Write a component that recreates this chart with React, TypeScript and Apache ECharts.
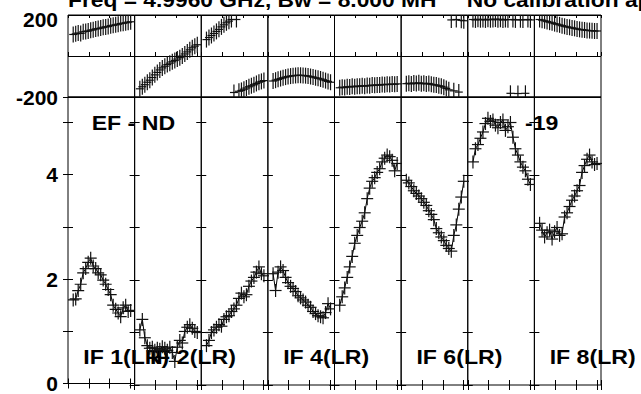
import { useEffect, useRef } from 'react';
import * as echarts from 'echarts';

const FONT = '"Liberation Sans", Arial, Helvetica, sans-serif';

// ---- texts ----
const titleLeft = 'Freq = 4.9960 GHz, Bw = 8.000 MH';
const titleRight = 'No calibration applied';
const baselineLabel = 'EF - ND';
const dateLabel = '-19';
const ifLabels = ['IF 1(LR)', 'IF 2(LR)', 'IF 4(LR)', 'IF 6(LR)', 'IF 8(LR)'];
const ifLabelPanels = [0, 1, 3, 5, 7];

// ---- axes ----
const channelMin = 0;
const channelMax = 32;
const channelTickStep = 10;
const phaseMin = -200;
const phaseMax = 200;
const ampMin = 0;
const ampMax = 5.486;
const ampTickStep = 1;

// channel positions of the plotted points in each IF panel
const channels = [2.5, 3.7, 4.9, 6.1, 7.3, 8.5, 9.7, 10.9, 12.1, 13.3, 14.5, 15.7, 16.9, 18.1, 19.3, 20.5, 21.7, 22.9, 24.1, 25.3, 26.5, 27.7, 28.9, 30.1];

// ---- amplitude per IF ----
const ampIF1 = [1.60, 1.62, 1.78, 1.90, 2.12, 2.20, 2.32, 2.40, 2.25, 2.20, 2.12, 2.08, 1.98, 1.90, 1.80, 1.70, 1.50, 1.42, 1.35, 1.28, 1.45, 1.50, 1.38, 1.40];
const ampIF2 = [1.05, 1.25, 0.90, 0.75, 0.70, 0.72, 0.66, 0.70, 0.68, 0.73, 0.70, 0.66, 0.72, 0.62, 0.45, 0.72, 0.85, 0.80, 1.02, 1.10, 1.15, 1.08, 1.02, 1.00];
const ampIF3 = [0.75, 0.85, 1.00, 1.05, 1.10, 1.15, 1.12, 1.25, 1.30, 1.32, 1.40, 1.45, 1.52, 1.65, 1.75, 1.68, 1.72, 1.88, 1.98, 2.05, 2.15, 2.25, 2.12, 2.08];
const ampIF4 = [2.12, 1.80, 2.15, 2.25, 2.18, 2.05, 1.95, 1.88, 1.84, 1.78, 1.70, 1.66, 1.62, 1.58, 1.52, 1.48, 1.40, 1.36, 1.32, 1.30, 1.28, 1.38, 1.55, 1.45];
const ampIF5 = [1.52, 1.68, 1.85, 2.05, 2.25, 2.45, 2.70, 2.85, 3.00, 3.12, 3.28, 3.55, 3.75, 3.88, 3.95, 4.05, 4.12, 4.25, 4.32, 4.38, 4.35, 4.28, 4.08, 4.22];
const ampIF6 = [3.90, 3.85, 3.78, 3.70, 3.65, 3.60, 3.55, 3.48, 3.42, 3.32, 3.25, 3.15, 2.98, 2.90, 2.82, 2.75, 2.66, 2.60, 2.55, 2.85, 3.05, 3.35, 3.58, 3.88];
const ampIF7 = [4.25, 4.50, 4.58, 4.70, 4.82, 4.98, 5.08, 5.02, 5.05, 4.95, 4.90, 5.00, 5.05, 4.85, 4.92, 5.00, 4.72, 4.50, 4.38, 4.25, 4.15, 4.08, 3.92, 3.82];
const ampIF8 = [3.08, 2.95, 2.82, 2.90, 2.95, 2.78, 2.92, 3.00, 2.85, 2.88, 3.20, 3.28, 3.40, 3.52, 3.60, 3.70, 3.80, 4.05, 4.18, 4.30, 4.38, 4.25, 4.20, 4.22];

// ---- phase (degrees) per IF ----
const phaseIF1 = [105, 108, 112, 110, 118, 120, 122, 126, 128, 132, 134, 136, 140, 142, 144, 148, 150, 152, 155, 158, 160, 162, 165, 167];
const phaseIF2 = [-160, -150, -140, -128, -118, -105, -92, -80, -68, -58, -50, -42, -35, -28, -22, -15, -8, 0, 10, 20, 30, 40, 48, 55];
const phaseIF3 = [80, 90, 100, 110, 120, 130, 142, 152, 162, 170, 178, -178, 178, -172, -168, -162, -156, -150, -145, -140, -134, -128, -124, -120];
const phaseIF4 = [-122, -118, -114, -110, -106, -103, -100, -98, -96, -95, -94, -94, -95, -96, -98, -100, -103, -106, -109, -112, -116, -120, -124, -128];
const phaseIF5 = [-155, -152, -154, -150, -151, -148, -150, -147, -148, -145, -147, -144, -145, -142, -143, -141, -142, -139, -140, -138, -139, -137, -138, -136];
const phaseIF6 = [-135, -133, -136, -132, -134, -131, -135, -133, -136, -134, -138, -140, -142, -145, -148, -152, -158, -165, 176, -170, 178, -176, 174, 172];
const phaseIF7 = [178, 176, 179, 177, 178, 176, 179, 177, 178, 180, 177, 179, 176, 178, 177, -182, 178, 176, -183, 177, 176, -182, 178, 176];
const phaseIF8 = [178, 175, 172, 168, 165, 162, 158, 155, 152, 148, 145, 142, 140, 137, 135, 132, 130, 128, 127, 125, 124, 123, 122, 122];

const ampData = [ampIF1, ampIF2, ampIF3, ampIF4, ampIF5, ampIF6, ampIF7, ampIF8];
const phaseData = [phaseIF1, phaseIF2, phaseIF3, phaseIF4, phaseIF5, phaseIF6, phaseIF7, phaseIF8];

// ---- layout ----
const PLOT_LEFT = 68;
const PANEL_W = 66.625;
const PHASE_TOP = 15;
const PHASE_H = 82;
const AMP_TOP = 97;
const AMP_H = 288;

const labelFont = { fontSize: 21, fontWeight: 'bold' as const, fontFamily: FONT, color: '#000' };

function crossRenderer(hw: number, hh: number) {
  return (params: any, api: any) => {
    const pt = api.coord([api.value(0), api.value(1)]);
    const st = { stroke: '#111', lineWidth: 1.2 };
    return {
      type: 'group',
      children: [
        { type: 'line', shape: { x1: pt[0] - hw, y1: pt[1], x2: pt[0] + hw, y2: pt[1] }, style: st },
        { type: 'line', shape: { x1: pt[0], y1: pt[1] - hh, x2: pt[0], y2: pt[1] + hh }, style: st },
      ],
    };
  };
}

function buildOption() {
  const grid: any[] = [];
  const xAxis: any[] = [];
  const yAxis: any[] = [];
  const series: any[] = [];

  const xa = (gridIndex: number, position: string, len: number) => ({
    type: 'value',
    gridIndex,
    position,
    min: channelMin,
    max: channelMax,
    interval: channelTickStep,
    axisLine: { show: false },
    axisTick: { show: true, inside: true, length: len, lineStyle: { color: '#000', width: 1 } },
    axisLabel: { show: false },
    splitLine: { show: false },
  });

  for (let p = 0; p < 8; p++) {
    const left = PLOT_LEFT + p * PANEL_W;
    const gPhase = grid.length;
    grid.push({ left, top: PHASE_TOP, width: PANEL_W, height: PHASE_H, show: true, borderColor: '#000', borderWidth: 1, backgroundColor: 'transparent' });
    const gAmp = grid.length;
    grid.push({ left, top: AMP_TOP, width: PANEL_W, height: AMP_H, show: true, borderColor: '#000', borderWidth: 1, backgroundColor: 'transparent' });

    const xPhase = xAxis.length;
    xAxis.push(xa(gPhase, 'bottom', 4));
    xAxis.push(xa(gPhase, 'top', 3));
    const xAmp = xAxis.length;
    xAxis.push(xa(gAmp, 'bottom', 5));
    xAxis.push(xa(gAmp, 'top', 5));

    const yPhase = yAxis.length;
    yAxis.push({
      type: 'value',
      gridIndex: gPhase,
      position: 'left',
      min: phaseMin,
      max: phaseMax,
      interval: 200,
      axisLine: { show: false },
      axisTick: { show: false },
      splitLine: { show: true, lineStyle: { color: '#000', width: 1 } },
      axisLabel: p === 0
        ? {
            show: true,
            margin: 10,
            ...labelFont,
            formatter: (v: number) => (v === 200 ? '{lo|200}' : v === -200 ? '{n|-200}' : ''),
            rich: { lo: { ...labelFont, padding: [9, 0, 0, 0] }, n: { ...labelFont } },
          }
        : { show: false },
    });
    const yAmp = yAxis.length;
    yAxis.push({
      type: 'value',
      gridIndex: gAmp,
      position: 'left',
      min: ampMin,
      max: ampMax,
      interval: ampTickStep,
      axisLine: { show: false },
      axisTick: { show: true, inside: true, length: 5, lineStyle: { color: '#000', width: 1 } },
      splitLine: { show: false },
      axisLabel: p === 0
        ? {
            show: true,
            margin: 10,
            ...labelFont,
            formatter: (v: number) => {
              const r = Math.round(v);
              return Math.abs(v - r) < 1e-6 && r % 2 === 0 ? String(r) : '';
            },
          }
        : { show: false },
    });
    yAxis.push({
      type: 'value',
      gridIndex: gAmp,
      position: 'right',
      min: ampMin,
      max: ampMax,
      interval: ampTickStep,
      axisLine: { show: false },
      axisTick: { show: true, inside: true, length: 5, lineStyle: { color: '#000', width: 1 } },
      splitLine: { show: false },
      axisLabel: { show: false },
    });

    const ampRows = channels.map((c, i) => [c, ampData[p][i]]);
    const phaseRows = channels.map((c, i) => [c, phaseData[p][i]]);

    series.push({
      type: 'line',
      xAxisIndex: xAmp,
      yAxisIndex: yAmp,
      data: ampRows,
      symbol: 'none',
      lineStyle: { color: '#000', width: 1 },
      clip: true,
      silent: true,
      z: 3,
    });
    series.push({
      type: 'custom',
      xAxisIndex: xAmp,
      yAxisIndex: yAmp,
      data: ampRows,
      renderItem: crossRenderer(6, 6.5),
      clip: true,
      silent: true,
      z: 4,
    });
    series.push({
      type: 'custom',
      xAxisIndex: xPhase,
      yAxisIndex: yPhase,
      data: phaseRows,
      renderItem: crossRenderer(4, 8),
      clip: true,
      silent: true,
      z: 4,
    });
  }

  const textStyle = (text: string) => ({
    text,
    fontSize: 21,
    fontWeight: 'bold',
    fontFamily: FONT,
    fill: '#000',
    align: 'left',
    verticalAlign: 'middle',
  });

  const graphic: any[] = [
    { type: 'text', x: 68, y: 0, scaleX: 1.085, z: 1, style: textStyle(titleLeft) },
    { type: 'text', x: 466.7, y: 0, scaleX: 1.085, z: 1, style: textStyle(titleRight) },
    { type: 'text', x: 91.7, y: 123, scaleX: 1.1, z: 1, style: textStyle(baselineLabel) },
    { type: 'text', x: 525, y: 123, scaleX: 1.1, z: 1, style: textStyle(dateLabel) },
    ...ifLabels.map((t, i) => ({
      type: 'text',
      x: PLOT_LEFT + ifLabelPanels[i] * PANEL_W + 15.3,
      y: 357,
      scaleX: 1.1,
      z: 1,
      style: textStyle(t),
    })),
  ];

  return {
    animation: false,
    backgroundColor: '#fff',
    grid,
    xAxis,
    yAxis,
    series,
    graphic,
  };
}

export default function App() {
  const ref = useRef<HTMLDivElement>(null);
  useEffect(() => {
    const chart = echarts.init(ref.current!, undefined, { renderer: 'svg' });
    chart.setOption(buildOption() as any);
    return () => chart.dispose();
  }, []);
  return (
    <div
      ref={ref}
      style={{ position: 'absolute', left: 0, top: 0, width: 641, height: 394, background: '#fff' }}
    />
  );
}
